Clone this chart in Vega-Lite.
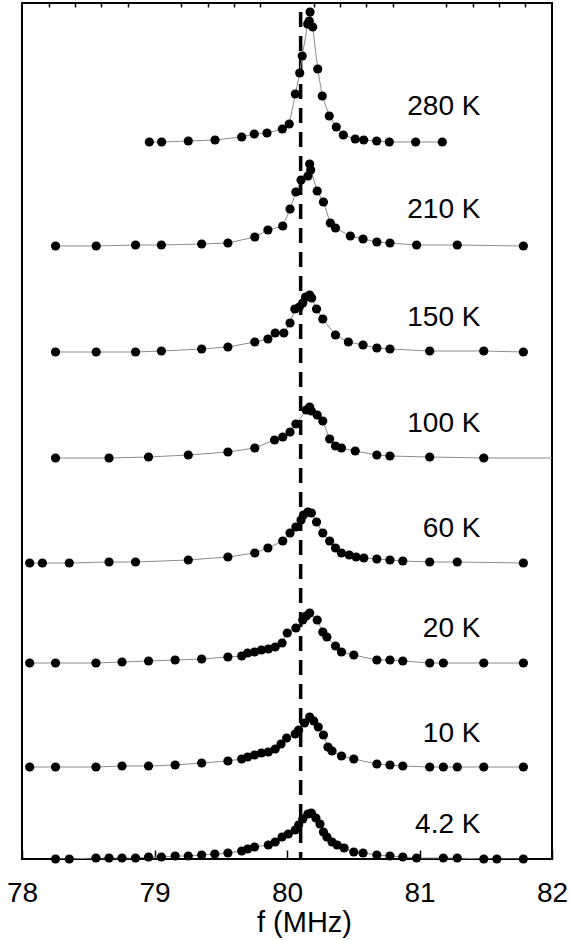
{
  "$schema": "https://vega.github.io/schema/vega-lite/v6.json",
  "width": 530,
  "height": 856,
  "autosize": {"type": "none"},
  "padding": {"left": 22, "top": 3, "right": 18, "bottom": 81},
  "background": "white",
  "config": {
    "view": {"stroke": "black", "strokeWidth": 2},
    "font": "Liberation Sans"
  },
  "resolve": {"axis": {"x": "independent"}},
  "datasets": {
    "spectra": [
      {"T": "280 K", "f": 78.961, "y": 7.17}, {"T": "280 K", "f": 79.054, "y": 7.17}, {"T": "280 K", "f": 79.255, "y": 7.18}, {"T": "280 K", "f": 79.457, "y": 7.19}, {"T": "280 K", "f": 79.658, "y": 7.22}, {"T": "280 K", "f": 79.753, "y": 7.25}, {"T": "280 K", "f": 79.849, "y": 7.26}, {"T": "280 K", "f": 79.965, "y": 7.30}, {"T": "280 K", "f": 80.017, "y": 7.35}, {"T": "280 K", "f": 80.063, "y": 7.65}, {"T": "280 K", "f": 80.096, "y": 7.86}, {"T": "280 K", "f": 80.115, "y": 8.03}, {"T": "280 K", "f": 80.156, "y": 8.35}, {"T": "280 K", "f": 80.168, "y": 8.38}, {"T": "280 K", "f": 80.174, "y": 8.47}, {"T": "280 K", "f": 80.194, "y": 8.32}, {"T": "280 K", "f": 80.232, "y": 7.90}, {"T": "280 K", "f": 80.266, "y": 7.63}, {"T": "280 K", "f": 80.319, "y": 7.43}, {"T": "280 K", "f": 80.372, "y": 7.32}, {"T": "280 K", "f": 80.425, "y": 7.24}, {"T": "280 K", "f": 80.515, "y": 7.20}, {"T": "280 K", "f": 80.579, "y": 7.19}, {"T": "280 K", "f": 80.677, "y": 7.18}, {"T": "280 K", "f": 80.772, "y": 7.17}, {"T": "280 K", "f": 80.971, "y": 7.17}, {"T": "280 K", "f": 81.172, "y": 7.17},

      {"T": "210 K", "f": 78.253, "y": 6.13}, {"T": "210 K", "f": 78.560, "y": 6.13}, {"T": "210 K", "f": 78.857, "y": 6.14}, {"T": "210 K", "f": 79.052, "y": 6.14}, {"T": "210 K", "f": 79.356, "y": 6.15}, {"T": "210 K", "f": 79.554, "y": 6.16}, {"T": "210 K", "f": 79.757, "y": 6.22}, {"T": "210 K", "f": 79.856, "y": 6.29}, {"T": "210 K", "f": 79.968, "y": 6.33}, {"T": "210 K", "f": 80.023, "y": 6.50}, {"T": "210 K", "f": 80.067, "y": 6.67}, {"T": "210 K", "f": 80.106, "y": 6.79}, {"T": "210 K", "f": 80.158, "y": 6.83}, {"T": "210 K", "f": 80.171, "y": 6.95}, {"T": "210 K", "f": 80.179, "y": 6.89}, {"T": "210 K", "f": 80.228, "y": 6.68}, {"T": "210 K", "f": 80.275, "y": 6.57}, {"T": "210 K", "f": 80.327, "y": 6.36}, {"T": "210 K", "f": 80.366, "y": 6.31}, {"T": "210 K", "f": 80.478, "y": 6.23}, {"T": "210 K", "f": 80.574, "y": 6.20}, {"T": "210 K", "f": 80.678, "y": 6.17}, {"T": "210 K", "f": 80.777, "y": 6.16}, {"T": "210 K", "f": 80.978, "y": 6.14}, {"T": "210 K", "f": 81.285, "y": 6.14}, {"T": "210 K", "f": 81.784, "y": 6.13},

      {"T": "150 K", "f": 78.253, "y": 5.07}, {"T": "150 K", "f": 78.560, "y": 5.07}, {"T": "150 K", "f": 78.857, "y": 5.07}, {"T": "150 K", "f": 79.052, "y": 5.08}, {"T": "150 K", "f": 79.356, "y": 5.10}, {"T": "150 K", "f": 79.554, "y": 5.12}, {"T": "150 K", "f": 79.757, "y": 5.17}, {"T": "150 K", "f": 79.856, "y": 5.20}, {"T": "150 K", "f": 79.911, "y": 5.26}, {"T": "150 K", "f": 79.976, "y": 5.26}, {"T": "150 K", "f": 80.023, "y": 5.36}, {"T": "150 K", "f": 80.059, "y": 5.50}, {"T": "150 K", "f": 80.093, "y": 5.52}, {"T": "150 K", "f": 80.119, "y": 5.56}, {"T": "150 K", "f": 80.140, "y": 5.62}, {"T": "150 K", "f": 80.171, "y": 5.64}, {"T": "150 K", "f": 80.186, "y": 5.61}, {"T": "150 K", "f": 80.223, "y": 5.50}, {"T": "150 K", "f": 80.270, "y": 5.40}, {"T": "150 K", "f": 80.366, "y": 5.24}, {"T": "150 K", "f": 80.463, "y": 5.17}, {"T": "150 K", "f": 80.574, "y": 5.14}, {"T": "150 K", "f": 80.678, "y": 5.11}, {"T": "150 K", "f": 80.777, "y": 5.10}, {"T": "150 K", "f": 81.077, "y": 5.08}, {"T": "150 K", "f": 81.485, "y": 5.08}, {"T": "150 K", "f": 81.784, "y": 5.07},

      {"T": "100 K", "f": 78.253, "y": 4.01}, {"T": "100 K", "f": 78.657, "y": 4.01}, {"T": "100 K", "f": 78.955, "y": 4.02}, {"T": "100 K", "f": 79.255, "y": 4.04}, {"T": "100 K", "f": 79.554, "y": 4.07}, {"T": "100 K", "f": 79.757, "y": 4.11}, {"T": "100 K", "f": 79.906, "y": 4.19}, {"T": "100 K", "f": 79.968, "y": 4.22}, {"T": "100 K", "f": 80.023, "y": 4.27}, {"T": "100 K", "f": 80.067, "y": 4.35}, {"T": "100 K", "f": 80.145, "y": 4.49}, {"T": "100 K", "f": 80.171, "y": 4.52}, {"T": "100 K", "f": 80.184, "y": 4.48}, {"T": "100 K", "f": 80.228, "y": 4.44}, {"T": "100 K", "f": 80.270, "y": 4.38}, {"T": "100 K", "f": 80.322, "y": 4.20}, {"T": "100 K", "f": 80.366, "y": 4.13}, {"T": "100 K", "f": 80.411, "y": 4.11}, {"T": "100 K", "f": 80.515, "y": 4.08}, {"T": "100 K", "f": 80.678, "y": 4.04}, {"T": "100 K", "f": 80.777, "y": 4.03}, {"T": "100 K", "f": 81.077, "y": 4.02}, {"T": "100 K", "f": 81.485, "y": 4.01}, {"T": "100 K", "f": 82.4, "y": 4.01},

      {"T": "60 K", "f": 78.058, "y": 2.96}, {"T": "60 K", "f": 78.154, "y": 2.96}, {"T": "60 K", "f": 78.357, "y": 2.96}, {"T": "60 K", "f": 78.657, "y": 2.97}, {"T": "60 K", "f": 78.857, "y": 2.97}, {"T": "60 K", "f": 79.255, "y": 2.99}, {"T": "60 K", "f": 79.554, "y": 3.02}, {"T": "60 K", "f": 79.757, "y": 3.06}, {"T": "60 K", "f": 79.856, "y": 3.11}, {"T": "60 K", "f": 79.968, "y": 3.18}, {"T": "60 K", "f": 80.023, "y": 3.26}, {"T": "60 K", "f": 80.067, "y": 3.32}, {"T": "60 K", "f": 80.106, "y": 3.39}, {"T": "60 K", "f": 80.124, "y": 3.44}, {"T": "60 K", "f": 80.158, "y": 3.47}, {"T": "60 K", "f": 80.184, "y": 3.46}, {"T": "60 K", "f": 80.223, "y": 3.37}, {"T": "60 K", "f": 80.270, "y": 3.26}, {"T": "60 K", "f": 80.322, "y": 3.18}, {"T": "60 K", "f": 80.366, "y": 3.11}, {"T": "60 K", "f": 80.411, "y": 3.06}, {"T": "60 K", "f": 80.470, "y": 3.04}, {"T": "60 K", "f": 80.522, "y": 3.02}, {"T": "60 K", "f": 80.580, "y": 3.01}, {"T": "60 K", "f": 80.678, "y": 3.00}, {"T": "60 K", "f": 80.777, "y": 2.99}, {"T": "60 K", "f": 80.874, "y": 2.98}, {"T": "60 K", "f": 81.077, "y": 2.97}, {"T": "60 K", "f": 81.285, "y": 2.97}, {"T": "60 K", "f": 81.784, "y": 2.96},

      {"T": "20 K", "f": 78.058, "y": 1.96}, {"T": "20 K", "f": 78.253, "y": 1.96}, {"T": "20 K", "f": 78.558, "y": 1.96}, {"T": "20 K", "f": 78.755, "y": 1.97}, {"T": "20 K", "f": 78.955, "y": 1.98}, {"T": "20 K", "f": 79.156, "y": 1.99}, {"T": "20 K", "f": 79.356, "y": 2.00}, {"T": "20 K", "f": 79.554, "y": 2.02}, {"T": "20 K", "f": 79.658, "y": 2.03}, {"T": "20 K", "f": 79.703, "y": 2.06}, {"T": "20 K", "f": 79.755, "y": 2.07}, {"T": "20 K", "f": 79.807, "y": 2.09}, {"T": "20 K", "f": 79.859, "y": 2.10}, {"T": "20 K", "f": 79.911, "y": 2.12}, {"T": "20 K", "f": 79.963, "y": 2.16}, {"T": "20 K", "f": 80.002, "y": 2.26}, {"T": "20 K", "f": 80.067, "y": 2.31}, {"T": "20 K", "f": 80.119, "y": 2.39}, {"T": "20 K", "f": 80.145, "y": 2.43}, {"T": "20 K", "f": 80.171, "y": 2.46}, {"T": "20 K", "f": 80.228, "y": 2.39}, {"T": "20 K", "f": 80.270, "y": 2.27}, {"T": "20 K", "f": 80.301, "y": 2.22}, {"T": "20 K", "f": 80.366, "y": 2.13}, {"T": "20 K", "f": 80.411, "y": 2.07}, {"T": "20 K", "f": 80.504, "y": 2.04}, {"T": "20 K", "f": 80.678, "y": 1.99}, {"T": "20 K", "f": 80.777, "y": 1.99}, {"T": "20 K", "f": 80.874, "y": 1.98}, {"T": "20 K", "f": 81.077, "y": 1.96}, {"T": "20 K", "f": 81.180, "y": 1.96}, {"T": "20 K", "f": 81.485, "y": 1.96}, {"T": "20 K", "f": 81.784, "y": 1.96},

      {"T": "10 K", "f": 78.058, "y": 0.92}, {"T": "10 K", "f": 78.253, "y": 0.92}, {"T": "10 K", "f": 78.558, "y": 0.92}, {"T": "10 K", "f": 78.755, "y": 0.93}, {"T": "10 K", "f": 78.955, "y": 0.93}, {"T": "10 K", "f": 79.156, "y": 0.94}, {"T": "10 K", "f": 79.356, "y": 0.96}, {"T": "10 K", "f": 79.554, "y": 0.98}, {"T": "10 K", "f": 79.658, "y": 1.00}, {"T": "10 K", "f": 79.703, "y": 1.02}, {"T": "10 K", "f": 79.755, "y": 1.04}, {"T": "10 K", "f": 79.807, "y": 1.06}, {"T": "10 K", "f": 79.859, "y": 1.07}, {"T": "10 K", "f": 79.911, "y": 1.10}, {"T": "10 K", "f": 79.955, "y": 1.15}, {"T": "10 K", "f": 79.997, "y": 1.21}, {"T": "10 K", "f": 80.062, "y": 1.25}, {"T": "10 K", "f": 80.088, "y": 1.29}, {"T": "10 K", "f": 80.132, "y": 1.36}, {"T": "10 K", "f": 80.171, "y": 1.42}, {"T": "10 K", "f": 80.202, "y": 1.38}, {"T": "10 K", "f": 80.236, "y": 1.32}, {"T": "10 K", "f": 80.275, "y": 1.24}, {"T": "10 K", "f": 80.309, "y": 1.12}, {"T": "10 K", "f": 80.340, "y": 1.08}, {"T": "10 K", "f": 80.411, "y": 1.03}, {"T": "10 K", "f": 80.504, "y": 1.00}, {"T": "10 K", "f": 80.678, "y": 0.95}, {"T": "10 K", "f": 80.777, "y": 0.94}, {"T": "10 K", "f": 80.874, "y": 0.93}, {"T": "10 K", "f": 81.077, "y": 0.92}, {"T": "10 K", "f": 81.180, "y": 0.92}, {"T": "10 K", "f": 81.285, "y": 0.92}, {"T": "10 K", "f": 81.485, "y": 0.92}, {"T": "10 K", "f": 81.784, "y": 0.92},

      {"T": "4.2 K", "f": 78.253, "y": 0.00}, {"T": "4.2 K", "f": 78.357, "y": 0.00}, {"T": "4.2 K", "f": 78.558, "y": 0.01}, {"T": "4.2 K", "f": 78.657, "y": 0.01}, {"T": "4.2 K", "f": 78.755, "y": 0.01}, {"T": "4.2 K", "f": 78.857, "y": 0.01}, {"T": "4.2 K", "f": 78.955, "y": 0.02}, {"T": "4.2 K", "f": 79.052, "y": 0.02}, {"T": "4.2 K", "f": 79.156, "y": 0.03}, {"T": "4.2 K", "f": 79.255, "y": 0.03}, {"T": "4.2 K", "f": 79.356, "y": 0.04}, {"T": "4.2 K", "f": 79.455, "y": 0.05}, {"T": "4.2 K", "f": 79.554, "y": 0.06}, {"T": "4.2 K", "f": 79.658, "y": 0.08}, {"T": "4.2 K", "f": 79.703, "y": 0.10}, {"T": "4.2 K", "f": 79.755, "y": 0.12}, {"T": "4.2 K", "f": 79.859, "y": 0.14}, {"T": "4.2 K", "f": 79.911, "y": 0.17}, {"T": "4.2 K", "f": 79.963, "y": 0.22}, {"T": "4.2 K", "f": 80.010, "y": 0.25}, {"T": "4.2 K", "f": 80.062, "y": 0.29}, {"T": "4.2 K", "f": 80.088, "y": 0.34}, {"T": "4.2 K", "f": 80.119, "y": 0.40}, {"T": "4.2 K", "f": 80.158, "y": 0.45}, {"T": "4.2 K", "f": 80.184, "y": 0.46}, {"T": "4.2 K", "f": 80.218, "y": 0.41}, {"T": "4.2 K", "f": 80.249, "y": 0.35}, {"T": "4.2 K", "f": 80.275, "y": 0.27}, {"T": "4.2 K", "f": 80.301, "y": 0.22}, {"T": "4.2 K", "f": 80.340, "y": 0.17}, {"T": "4.2 K", "f": 80.379, "y": 0.14}, {"T": "4.2 K", "f": 80.431, "y": 0.11}, {"T": "4.2 K", "f": 80.504, "y": 0.07}, {"T": "4.2 K", "f": 80.574, "y": 0.06}, {"T": "4.2 K", "f": 80.678, "y": 0.04}, {"T": "4.2 K", "f": 80.777, "y": 0.03}, {"T": "4.2 K", "f": 80.874, "y": 0.02}, {"T": "4.2 K", "f": 80.978, "y": 0.01}, {"T": "4.2 K", "f": 81.180, "y": 0.01}, {"T": "4.2 K", "f": 81.285, "y": 0.01}, {"T": "4.2 K", "f": 81.485, "y": 0.00}, {"T": "4.2 K", "f": 81.584, "y": 0.00}, {"T": "4.2 K", "f": 81.784, "y": 0.00}
    ],
    "labels": [
      {"label": "280 K", "f": 81.46, "y": 7.44},
      {"label": "210 K", "f": 81.46, "y": 6.41},
      {"label": "150 K", "f": 81.46, "y": 5.33},
      {"label": "100 K", "f": 81.46, "y": 4.27},
      {"label": "60 K", "f": 81.46, "y": 3.22},
      {"label": "20 K", "f": 81.46, "y": 2.22},
      {"label": "10 K", "f": 81.46, "y": 1.17},
      {"label": "4.2 K", "f": 81.46, "y": 0.26}
    ],
    "ref": [
      {"f": 80.103, "ytop": 8.56, "ybot": 0}
    ]
  },
  "layer": [
    {
      "data": {"name": "ref"},
      "mark": {"type": "rule", "color": "black", "strokeWidth": 3.5, "strokeDash": [15, 9], "strokeDashOffset": 15},
      "encoding": {
        "x": {"field": "f", "type": "quantitative", "scale": {"domain": [78, 82], "nice": false, "zero": false},
          "axis": {
            "values": [78, 79, 80, 81, 82],
            "format": "d",
            "labelFlush": false,
            "labelOverlap": false,
            "labelFont": "Liberation Sans",
            "labelFontSize": 28,
            "labelColor": "black",
            "labelPadding": 29,
            "domain": false,
            "grid": false,
            "tickColor": "black",
            "tickWidth": 1.5,
            "tickSize": -9,
            "title": "f (MHz)",
            "titleFont": "Liberation Sans",
            "titleFontSize": 29,
            "titleFontWeight": "normal",
            "titleColor": "black",
            "titleX": 282,
            "titleY": 72,
            "titleAlign": "center",
            "titleBaseline": "alphabetic"
          }
        },
        "y": {"field": "ytop", "type": "quantitative", "scale": {"domain": [0, 8.56], "nice": false, "zero": false}, "axis": null},
        "y2": {"field": "ybot"}
      }
    },
    {
      "data": {"name": "spectra"},
      "mark": {"type": "line", "color": "#8c8c8c", "strokeWidth": 1, "clip": true},
      "encoding": {
        "x": {"field": "f", "type": "quantitative",
          "axis": {
            "values": [78.2, 78.4, 78.6, 78.8, 79.2, 79.4, 79.6, 79.8, 80.2, 80.4, 80.6, 80.8, 81.2, 81.4, 81.6, 81.8],
            "labels": false,
            "domain": false,
            "grid": false,
            "tickColor": "black",
            "tickWidth": 1.5,
            "tickSize": -4,
            "title": null
          }
        },
        "y": {"field": "y", "type": "quantitative", "axis": null},
        "detail": {"field": "T"}
      }
    },
    {
      "data": {"name": "spectra"},
      "transform": [{"filter": "datum.f <= 82"}],
      "mark": {"type": "point", "filled": true, "shape": "circle", "color": "black", "size": 85, "opacity": 1},
      "encoding": {
        "x": {"field": "f", "type": "quantitative", "axis": null},
        "y": {"field": "y", "type": "quantitative", "axis": null}
      }
    },
    {
      "data": {"name": "labels"},
      "mark": {"type": "text", "align": "right", "baseline": "alphabetic", "font": "Liberation Sans", "fontSize": 28, "color": "black"},
      "encoding": {
        "x": {"field": "f", "type": "quantitative", "axis": null},
        "y": {"field": "y", "type": "quantitative", "axis": null},
        "text": {"field": "label"}
      }
    }
  ]
}
